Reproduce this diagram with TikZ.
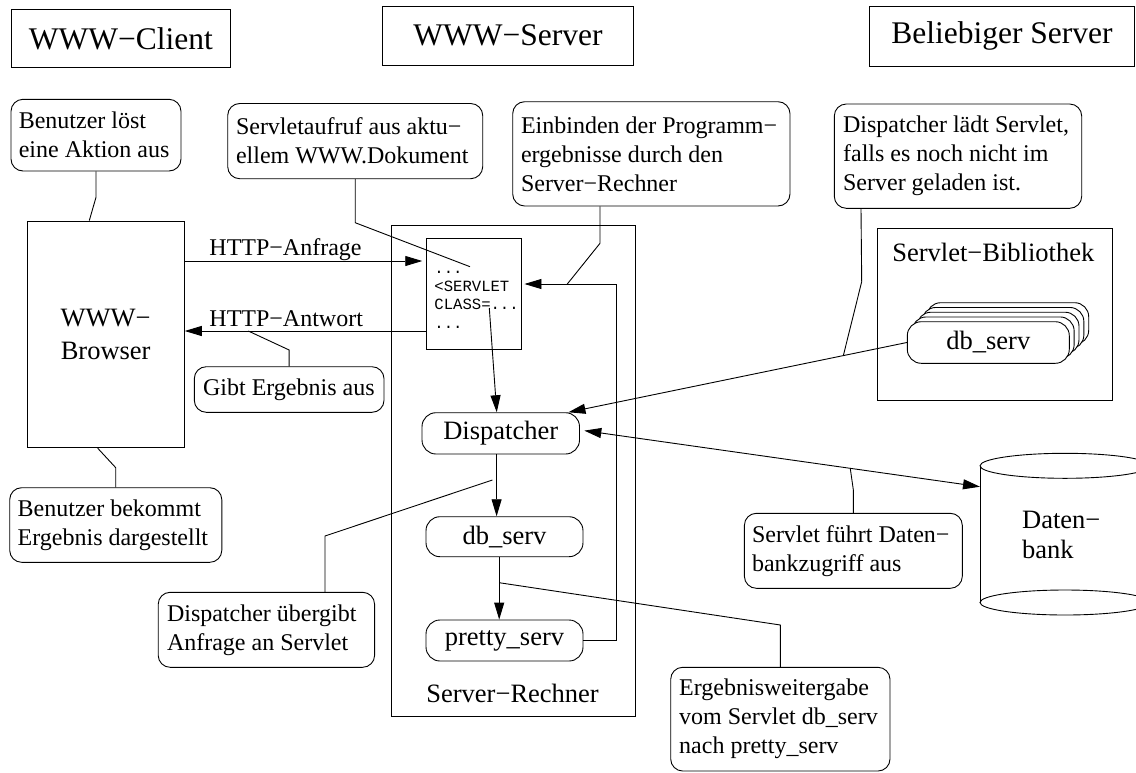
\documentclass[tikz,border=0pt]{standalone}
\usepackage{fontspec}
\setmainfont{Liberation Serif}
\setmonofont{Liberation Mono}
\usetikzlibrary{arrows.meta}

\newcommand\fhead{\fontsize{31.5}{38}\selectfont}
\newcommand\fbig{\fontsize{26.5}{33}\selectfont}
\newcommand\fnote{\fontsize{24}{29}\selectfont}
\newcommand\fdoc{\fontsize{15.6}{18.4}\selectfont\ttfamily}

\begin{document}
\begin{tikzpicture}[x=1pt,y=-1pt, line width=0.9pt,
  frame/.style={draw, inner sep=0pt},
  heading/.style={frame, font=\fhead},
  note/.style={draw, rounded corners=12pt, inner sep=0pt},
  notetext/.style={inner sep=0pt, align=left, font=\fnote, anchor=west},
  label/.style={inner sep=0pt, font=\fnote, anchor=base west},
  biglabel/.style={inner sep=0pt, font=\fbig},
  doctext/.style={inner sep=0pt, font=\fdoc, anchor=base west},
  proc/.style={draw, rounded corners=14pt, inner sep=0pt, font=\fbig, minimum width=157pt},
  tip/.tip={Triangle[length=17pt,width=10pt]},
  arr/.style={-tip},
  link/.style={line width=0.9pt},
]
\path[use as bounding box] (0,0) rectangle (1136,772);
\clip (0,0) rectangle (1136,772);

% column headings
\node[heading, minimum width=218.3pt, minimum height=58.4pt] (tclient) at (120.85,38.5) {WWW−Client};
\node[heading, minimum width=250.6pt, minimum height=59.3pt] (tserver) at (508,35.65) {WWW−Server};
\node[heading, minimum width=265.2pt, minimum height=59.3pt] (tany) at (1001.9,36.35) {Beliebiger Server};

% client side
\node[frame, minimum width=157.3pt, minimum height=226.7pt, font=\fbig, align=center] (browser) at (105.65,334.35) {WWW−\\Browser};

% server machine
\node[frame, minimum width=243.6pt, minimum height=490.3pt] (host) at (513.5,470.85) {};
\node[biglabel, anchor=base] (hostlbl) at (512.6,702.7) {Server−Rechner};
\node[frame, minimum width=95pt, minimum height=110.8pt] (doc) at (474.2,293.9) {};
\node[doctext] (doc1) at (434,273) {...};
\node[doctext] (doc2) at (434,291.4) {<SERVLET};
\node[doctext] (doc3) at (434,309.8) {CLASS=...};
\node[doctext] (doc4) at (434,328.2) {...};

\node[proc, minimum width=157.5pt, minimum height=41.3pt] (disp) at (500.75,433.35) {Dispatcher};
\node[proc, minimum height=40pt] (dbs) at (504.5,536.7) {db\_serv};
\node[proc, minimum height=41pt] (pretty) at (504.5,640.5) {pretty\_serv};

% servlet library
\node[frame, minimum width=235pt, minimum height=172pt] (lib) at (995,314) {};
\node[biglabel, anchor=base] (liblbl) at (993.3,261.7) {Servlet−Bibliothek};
\foreach \k in {4,3,2,1}
  \node[proc, fill=white, minimum width=162pt, minimum height=41.6pt] (stk\k) at ({988.3+4.85*\k},{342.5-4.75*\k}) {};
\node[proc, fill=white, minimum width=162pt, minimum height=41.6pt] (stk) at (988.3,342.5) {db\_serv};

% database
\coordinate (dbin) at (980,486.7);
\draw (980,465.8) -- (980,602.5);
\draw (1065,465.8) ellipse [x radius=85pt, y radius=12.5pt];
\draw (1065,602.5) ellipse [x radius=85pt, y radius=12.5pt];
\node[biglabel, anchor=base west] (dbt1) at (1021.7,528.3) {Daten−};
\node[biglabel, anchor=base west] (dbt2) at (1021.7,558.3) {bank};

% annotations
\node[note, minimum width=170pt, minimum height=71.7pt] (n1) at (96,135.15) {};
\node[notetext] (n1t) at ([xshift=7.8pt]n1.west) {Benutzer löst\\eine Aktion aus};
\node[note, minimum width=255pt, minimum height=75.2pt] (n2) at (355.2,141.1) {};
\node[notetext] (n2t) at ([xshift=8.3pt]n2.west) {Servletaufruf aus aktu−\\ellem WWW.Dokument};
\node[note, minimum width=277.3pt, minimum height=104.3pt] (n3) at (651.35,153.85) {};
\node[notetext] (n3t) at ([xshift=8.3pt]n3.west) {Einbinden der Programm−\\ergebnisse durch den\\Server−Rechner};
\node[note, minimum width=247.4pt, minimum height=104.3pt] (n4) at (958,156.15) {};
\node[notetext] (n4t) at ([xshift=8.8pt]n4.west) {Dispatcher lädt Servlet,\\falls es noch nicht im\\Server geladen ist.};
\node[note, minimum width=189.7pt, minimum height=45.6pt] (n5) at (289.15,389.5) {};
\node[notetext] (n5t) at ([xshift=8.8pt]n5.west) {Gibt Ergebnis aus};
\node[note, minimum width=212.1pt, minimum height=74.6pt] (n6) at (115.75,525) {};
\node[notetext] (n6t) at ([xshift=8pt]n6.west) {Benutzer bekommt\\Ergebnis dargestellt};
\node[note, minimum width=216.4pt, minimum height=75pt] (n7) at (266.4,629.8) {};
\node[notetext] (n7t) at ([xshift=8.8pt]n7.west) {Dispatcher übergibt\\Anfrage an Servlet};
\node[note, minimum width=217.9pt, minimum height=75pt] (n8) at (853.35,550.8) {};
\node[notetext] (n8t) at ([xshift=7.6pt]n8.west) {Servlet führt Daten−\\bankzugriff aus};
\node[note, minimum width=219.3pt, minimum height=103.7pt] (n9) at (780.35,719.15) {};
\node[notetext] (n9t) at ([xshift=8.5pt]n9.west) {Ergebnisweitergabe\\vom Servlet db\_serv\\nach pretty\_serv};

% request / response
\draw[arr, shorten >=4pt] (browser.east |- 0,261) -- (doc.west |- 0,261);
\node[label] (lreq) at (209,255.7) {HTTP−Anfrage};
\draw[arr] (doc.west |- 0,331) -- (browser.east |- 0,331);
\node[label] (lresp) at (209,326.7) {HTTP−Antwort};

% processing chain
\draw[arr] ([shift={(15.1pt,-14.1pt)}]doc.center) -- ([xshift=-4pt]disp.north);
\draw[arr] ([xshift=-4.15pt]disp.south) -- ([xshift=-7.9pt]dbs.north);
\draw[arr] ([xshift=-5.3pt]dbs.south) -- ([xshift=-5.3pt]pretty.north);
\coordinate (ret) at (616.7,284);
\draw[arr, shorten >=2.3pt] (pretty.east) -| (ret) -- (doc.east |- ret);
\draw[arr] (stk.west) -- ([xshift=-11.5pt]disp.north east);
\draw[tip-tip, shorten <=4.4pt] ([yshift=3.35pt]disp.east) -- (dbin);

% annotation leaders
\draw[link] (n1.south) -- (96,197.3) -- ([xshift=-16.35pt]browser.north);
\draw[link] (n2.south) -- (355.2,222.7) -- ([shift={(-4.2pt,27.2pt)}]doc.center);
\draw[link] ([xshift=-51.35pt]n3.south) -- (600,243.3) -- (567.3,284);
\draw[link] ([xshift=-97pt]n4.south) -- (861.7,281.7) -- (843.3,355.7);
\draw[link] (n5.north) -- (289.15,350) -- (248.3,331);
\draw[link] (n6.north) -- (115.75,467.7) -- ([xshift=-8pt]browser.south);
\draw[link] ([xshift=58.6pt]n7.north) -- (325,536) -- (492.4,480);
\draw[link] (n8.north) -- (853.35,490) -- (850.2,468);
\draw[link] (n9.north) -- (780.35,625) -- (499.2,582.7);
\end{tikzpicture}
\end{document}
